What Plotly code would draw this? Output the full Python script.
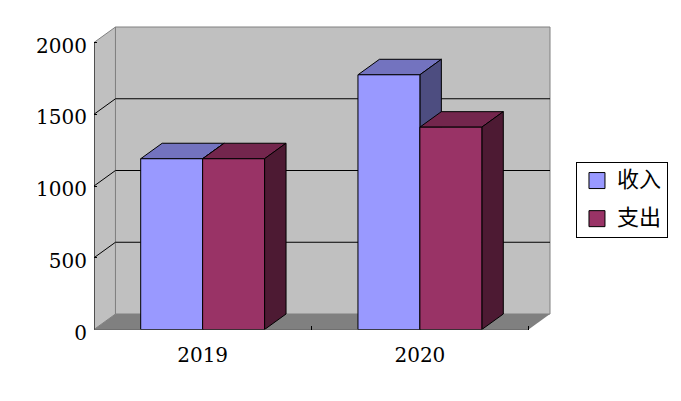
import plotly.graph_objects as go

categories = ["2019", "2020"]
series_names = ["收入", "支出"]
income = [1190, 1775]
expense = [1190, 1410]
y_ticks = [0, 500, 1000, 1500, 2000]

front_colors = ["#9999FF", "#993366"]
top_colors = ["#7373BF", "#73264D"]
side_colors = ["#4D4D80", "#4D1A33"]
values = [income, expense]

FONT = "'DejaVu Serif', 'Noto Sans CJK SC', serif"
U = 217.5           # pixels per category
K = 0.1435          # pixels per value unit
LEFT, RIGHT = 93.5, 551.0
TOP, BOTTOM, ZERO = 25.0, 345.0, 329.5
LABEL_DROP = 3.0
BAR_W = 62 / U
DX = 21.5 / U
DY = 15.5 / K
XL, XR = -0.5, 1.5
YMAX = y_ticks[-1]
RANGE_X = [XL, XL + (RIGHT - LEFT) / U]
RANGE_Y = [-(BOTTOM - ZERO) / K, (ZERO - TOP) / K]
H = BOTTOM - TOP
DOMAIN_Y = [(BOTTOM - ZERO) / H - (BOTTOM - ZERO) / H, 1]

fig = go.Figure()


def poly(xs, ys, fill, line=None, width=1):
    fig.add_trace(go.Scatter(
        x=xs, y=ys, mode="lines", fill="toself" if fill else None, fillcolor=fill,
        line=dict(color=line or "rgba(0,0,0,0)", width=width, simplify=False),
        hoverinfo="skip", showlegend=False, cliponaxis=False))


# walls and floor
poly([XL, XL + DX, XL + DX, XL, XL], [0, DY, YMAX + DY, YMAX, 0], "#C0C0C0", "#808080")
poly([XL + DX, XR + DX, XR + DX, XL + DX, XL + DX],
     [DY, DY, YMAX + DY, YMAX + DY, DY], "#C0C0C0", "#808080")
poly([XL, XR, XR + DX, XL + DX, XL], [0, 0, DY, DY, 0], "#808080")

# gridlines on side and back walls
for t in y_ticks[1:-1]:
    poly([XL, XL + DX, XR + DX], [t, t + DY, t + DY], None, "#000000")

# top and side faces of the bars, nearest drawn last
for c, cat in enumerate(categories):
    for s in range(len(series_names)):
        v = values[s][c]
        x0 = c - BAR_W + s * BAR_W
        x1 = x0 + BAR_W
        poly([x0, x1, x1 + DX, x0 + DX, x0], [v, v, v + DY, v + DY, v], top_colors[s], "#000000")
        poly([x1, x1 + DX, x1 + DX, x1, x1], [0, DY, v + DY, v, 0], side_colors[s], "#000000")

# axis lines
poly([XL, XL], [0, YMAX], None, "#000000")
poly([XL, XR], [0, 0], None, "#000000")

# front faces in an overlay subplot so they sit above the depth faces
for s, name in enumerate(series_names):
    fig.add_trace(go.Bar(
        x=[0, 1], y=values[s], name=name, width=BAR_W, offset=-BAR_W + s * BAR_W,
        marker=dict(color=front_colors[s], line=dict(color="#000000", width=1)),
        showlegend=False, hoverinfo="skip", xaxis="x2", yaxis="y2", cliponaxis=False))

# legend entries
for s, name in enumerate(series_names):
    fig.add_trace(go.Scatter(
        x=[None], y=[None], mode="markers",
        name=f'<span style="font-size:22px">{name}</span>', legendgroup=name,
        marker=dict(symbol="square", size=16, color=front_colors[s],
                    line=dict(color="#000000", width=1))))

# empty trace that carries the label-only value axis
fig.add_trace(go.Scatter(x=[None], y=[None], yaxis="y3", showlegend=False, hoverinfo="skip"))

y_domain_bottom = (BOTTOM - ZERO) / H
fig.update_layout(
    width=681, height=401,
    margin=dict(l=LEFT, r=681 - RIGHT, t=TOP, b=401 - BOTTOM, pad=0),
    paper_bgcolor="#FFFFFF", plot_bgcolor="rgba(0,0,0,0)",
    font=dict(family=FONT, size=20, color="#000000"),
    barmode="overlay",
    showlegend=True,
    legend=dict(x=(576 - LEFT) / (RIGHT - LEFT), y=(BOTTOM - 162) / H,
                xanchor="left", yanchor="top",
                bgcolor="#FFFFFF", bordercolor="#000000", borderwidth=1,
                font=dict(family="'Noto Sans CJK SC'", size=17), tracegroupgap=13,
                itemsizing="trace"),
    xaxis=dict(range=RANGE_X, tickvals=[0, 1], ticktext=categories, ticks="", showgrid=False,
               zeroline=False, showline=False, ticklabelstandoff=11,
               tickfont=dict(family=FONT, size=20),
               minor=dict(tickvals=[0.5, 1.5], ticks="inside", ticklen=4, tickcolor="#000000",
                          tickwidth=1, showgrid=False)),
    yaxis=dict(domain=[y_domain_bottom, 1], range=[0, (ZERO - TOP) / K], tickvals=y_ticks,
               ticks="inside", ticklen=3, tickcolor="#000000", tickwidth=1, showgrid=False,
               zeroline=False, showline=False, showticklabels=False),
    xaxis2=dict(range=RANGE_X, overlaying="x", visible=False),
    yaxis2=dict(domain=[y_domain_bottom, 1], range=[0, (ZERO - TOP) / K], overlaying="y",
                visible=False),
    yaxis3=dict(domain=[0, (BOTTOM - TOP - LABEL_DROP) / H],
                range=[-(BOTTOM - ZERO - LABEL_DROP) / K, (ZERO - TOP) / K],
                tickvals=y_ticks, ticks="", showgrid=False, zeroline=False, showline=False,
                anchor="x", ticklabelstandoff=6, tickfont=dict(family=FONT, size=20)),
)

fig.write_html("out.html", config={"displayModeBar": False},
               post_script="document.body.style.margin='0';document.body.style.overflow='hidden';")
